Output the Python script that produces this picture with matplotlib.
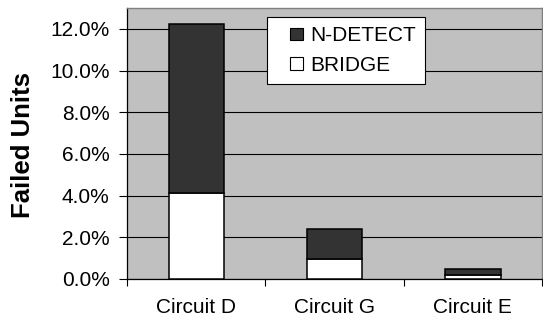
import matplotlib
matplotlib.use("Agg")
import matplotlib.pyplot as plt
import numpy as np
from matplotlib.ticker import FuncFormatter, FixedLocator
from matplotlib.patches import Patch, Rectangle
from matplotlib.legend_handler import HandlerPatch

plt.rcParams['font.family'] = ['Liberation Sans', 'DejaVu Sans']

# Failure rates (percent of units)
circuits = ["Circuit D", "Circuit G", "Circuit E"]
bridge = [4.11, 0.94, 0.19]
n_detect = [8.13, 1.46, 0.29]
y_ticks = [0, 2, 4, 6, 8, 10, 12]

fig = plt.figure(figsize=(5.43, 3.21), dpi=100)
ax = fig.add_axes([127 / 543, 42 / 321, 415 / 543, 271 / 321])
ax.set_facecolor("#C0C0C0")

x = np.arange(len(circuits))
w = 0.4
ax.bar(x, bridge, w, color="white", edgecolor="black", linewidth=1.1,
       zorder=3, label="BRIDGE")
ax.bar(x, n_detect, w, bottom=bridge, color="#333333", edgecolor="black",
       linewidth=1.1, zorder=3, label="N-DETECT")

ax.set_xlim(-0.5, len(circuits) - 0.5)
ax.set_ylim(0, 13.0)
ax.set_yticks(y_ticks)
ax.yaxis.set_major_formatter(FuncFormatter(lambda v, p: f"{v:.1f}%"))
ax.grid(axis="y", color="black", linewidth=0.8, zorder=1)
ax.set_axisbelow(True)

ax.set_xticks(x)
ax.set_xticklabels(circuits)
ax.xaxis.set_minor_locator(FixedLocator(np.arange(-0.5, len(circuits), 1.0)))
ax.tick_params(axis="x", which="major", length=0, pad=14, labelsize=15)
ax.tick_params(axis="x", which="minor", length=5, width=0.8, color="black")
ax.tick_params(axis="y", length=5.5, width=0.8, pad=7, labelsize=15)

for s in ("top", "right"):
    ax.spines[s].set_color("#808080")
    ax.spines[s].set_linewidth(1.0)
for s in ("left", "bottom"):
    ax.spines[s].set_color("black")
    ax.spines[s].set_linewidth(0.9)

fig.text(23 / 543, 1 - 145.5 / 321, "Failed Units", rotation=90,
         ha="center", va="center", fontsize=18.5, fontweight="bold")


def small_square(legend, orig_handle, xdescent, ydescent, width, height,
                 fontsize):
    # square key pushed to the right end of the handle slot
    side = height
    return Rectangle((-xdescent + width - side, -ydescent), side, side)


handles = [Patch(facecolor="#333333", edgecolor="black", linewidth=0.8),
           Patch(facecolor="white", edgecolor="black", linewidth=0.8)]
leg = ax.legend(handles, ["N-DETECT", "BRIDGE"], loc="upper left",
                bbox_to_anchor=(0.337, 0.967), borderaxespad=0,
                fontsize=15, frameon=True, fancybox=False, framealpha=1,
                edgecolor="black", handlelength=1.28, handleheight=0.55,
                handletextpad=0.33, labelspacing=0.5, borderpad=0.45,
                handler_map={Patch: HandlerPatch(patch_func=small_square)})
leg.get_frame().set_linewidth(0.8)
leg.set_zorder(5)

fig.savefig("out.png", dpi=100)
